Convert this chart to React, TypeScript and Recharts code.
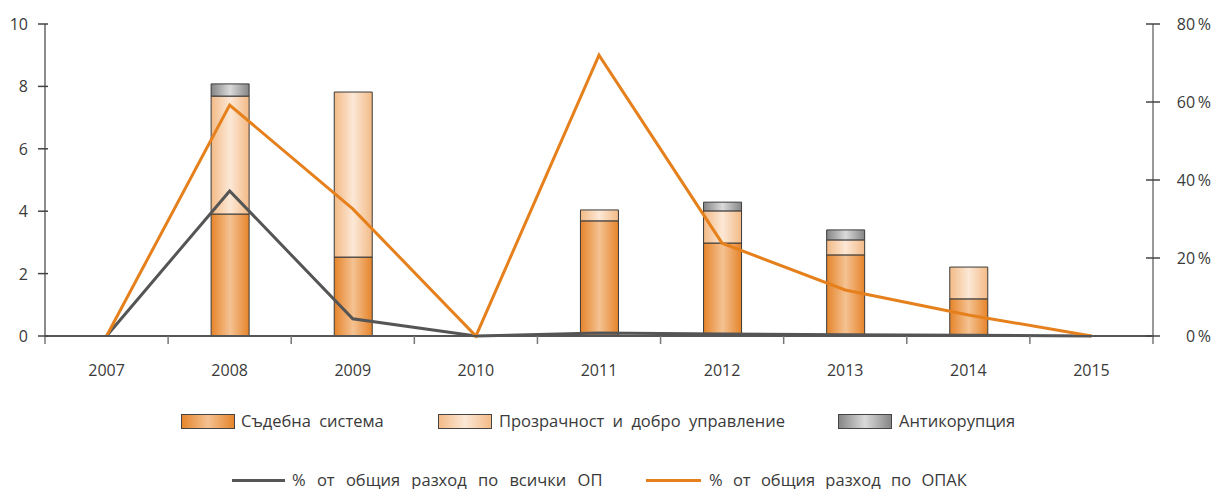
import React from 'react';
import { ComposedChart, Bar, Line, XAxis, YAxis } from 'recharts';

const years = ['2007', '2008', '2009', '2010', '2011', '2012', '2013', '2014', '2015'];
const judicial = [null, 3.91, 2.53, null, 3.69, 2.98, 2.6, 1.19, null];
const transparency = [null, 3.78, 5.29, null, 0.35, 1.03, 0.48, 1.02, null];
const anticorruption = [null, 0.39, null, null, null, 0.28, 0.32, null, null];
const shareAllOP = [0, 37.2, 4.4, 0, 0.8, 0.5, 0.3, 0.2, 0];
const shareOPAK = [0, 59.2, 32.6, 0, 72, 23.8, 11.8, 5.4, 0];
const leftTicks = [0, 2, 4, 6, 8, 10];
const rightTicks = [0, 20, 40, 60, 80];

const barNames = ['Съдебна система', 'Прозрачност и добро управление', 'Антикорупция'];
const lineNames = ['% от общия разход по всички ОП', '% от общия разход по ОПАК'];

const data = years.map((y, i) => ({
  year: y,
  judicial: judicial[i],
  transparency: transparency[i],
  anticorruption: anticorruption[i],
  allOP: shareAllOP[i],
  opak: shareOPAK[i],
}));

const W = 1215;
const H = 489;
const LEFT = 45;
const RIGHT = 62;
const TOP = 24;
const BOTTOM = 153;
const band = (W - LEFT - RIGHT) / years.length;

const FONT = '"Open Sans", "DejaVu Sans", sans-serif';
const TEXT = '#3a3a3a';
const ORANGE = '#E5801C';
const GRAY = '#555555';

const XTick = (props: any) => {
  const { x, y, payload, index } = props;
  const axisY = y - 8;
  return (
    <g>
      <line x1={x - band / 2} x2={x - band / 2} y1={axisY} y2={axisY + 8} stroke="#777" strokeWidth={1.5} />
      {index === years.length - 1 && (
        <line x1={x + band / 2} x2={x + band / 2} y1={axisY} y2={axisY + 8} stroke="#777" strokeWidth={1.5} />
      )}
      <text x={x} y={axisY + 34} textAnchor="middle" dominantBaseline="central" fontSize={16} fill={TEXT} fontFamily={FONT}>
        {payload.value}
      </text>
    </g>
  );
};

const LeftTick = (props: any) => {
  const { y, payload } = props;
  return (
    <g>
      <line x1={38} x2={48} y1={y} y2={y} stroke="#444" strokeWidth={1.5} />
      <text x={28} y={y} textAnchor="end" dominantBaseline="central" fontSize={16} fill={TEXT} fontFamily={FONT}>
        {payload.value}
      </text>
    </g>
  );
};

const RightTick = (props: any) => {
  const { y, payload } = props;
  const ax = W - RIGHT;
  return (
    <g>
      <line x1={ax - 7} x2={ax + 7} y1={y} y2={y} stroke="#444" strokeWidth={1.5} />
      <text x={1211} y={y} textAnchor="end" dominantBaseline="central" fontSize={16} fill={TEXT} fontFamily={FONT}>
        {`${payload.value}\u2009%`}
      </text>
    </g>
  );
};

const gradStops: Record<string, [string, string]> = {
  j: ['#E6842A', '#F4C292'],
  t: ['#F3BA86', '#FCE8D6'],
  a: ['#858585', '#DADADA'],
};

const Swatch = ({ id }: { id: string }) => (
  <svg width={54} height={16} style={{ display: 'block' }}>
    <defs>
      <linearGradient id={id + '-lg'} x1="0" y1="0" x2="1" y2="0">
        <stop offset="0" stopColor={gradStops[id][0]} />
        <stop offset="0.5" stopColor={gradStops[id][1]} />
        <stop offset="1" stopColor={gradStops[id][0]} />
      </linearGradient>
    </defs>
    <rect x={0.5} y={0.5} width={53} height={14} fill={`url(#${id}-lg)`} stroke="#444" strokeWidth={1} />
  </svg>
);

const legendText: React.CSSProperties = {
  position: 'absolute',
  fontFamily: FONT,
  fontSize: 16.5,
  color: TEXT,
  wordSpacing: 4,
  whiteSpace: 'nowrap',
  lineHeight: '20px',
};

export default function App() {
  return (
    <div style={{ position: 'absolute', left: 0, top: 0, width: W, height: H, background: '#fff' }}>
      <ComposedChart
        width={W}
        height={H}
        data={data}
        margin={{ top: TOP, right: 0, bottom: BOTTOM - 30, left: 0 }}
        barCategoryGap={0}
      >
        <defs>
          {Object.keys(gradStops).map((k) => (
            <linearGradient key={k} id={'g' + k} x1="0" y1="0" x2="1" y2="0">
              <stop offset="0" stopColor={gradStops[k][0]} />
              <stop offset="0.5" stopColor={gradStops[k][1]} />
              <stop offset="1" stopColor={gradStops[k][0]} />
            </linearGradient>
          ))}
        </defs>
        <XAxis
          dataKey="year"
          height={30}
          axisLine={{ stroke: GRAY, strokeWidth: 2 }}
          tickLine={false}
          tick={<XTick />}
          interval={0}
        />
        <YAxis
          yAxisId="left"
          width={LEFT}
          domain={[0, 10]}
          ticks={leftTicks}
          axisLine={{ stroke: '#666', strokeWidth: 1.5 }}
          tickLine={false}
          tick={<LeftTick />}
        />
        <YAxis
          yAxisId="right"
          orientation="right"
          width={RIGHT}
          domain={[0, 80]}
          ticks={rightTicks}
          axisLine={{ stroke: '#777', strokeWidth: 1.5 }}
          tickLine={false}
          tick={<RightTick />}
        />
        <Bar yAxisId="left" dataKey="judicial" name={barNames[0]} stackId="s" barSize={38} fill="url(#gj)" stroke="#3a3a3a" strokeWidth={1} isAnimationActive={false} />
        <Bar yAxisId="left" dataKey="transparency" name={barNames[1]} stackId="s" barSize={38} fill="url(#gt)" stroke="#3a3a3a" strokeWidth={1} isAnimationActive={false} />
        <Bar yAxisId="left" dataKey="anticorruption" name={barNames[2]} stackId="s" barSize={38} fill="url(#ga)" stroke="#3a3a3a" strokeWidth={1} isAnimationActive={false} />
        <Line yAxisId="right" type="linear" dataKey="allOP" name={lineNames[0]} stroke={GRAY} strokeWidth={3} dot={false} activeDot={false} isAnimationActive={false} />
        <Line yAxisId="right" type="linear" dataKey="opak" name={lineNames[1]} stroke={ORANGE} strokeWidth={3} dot={false} activeDot={false} isAnimationActive={false} />
      </ComposedChart>

      <div style={{ position: 'absolute', left: 181, top: 414 }}><Swatch id="j" /></div>
      <div style={{ ...legendText, left: 241, top: 411 }}>{barNames[0]}</div>
      <div style={{ position: 'absolute', left: 438, top: 414 }}><Swatch id="t" /></div>
      <div style={{ ...legendText, left: 499, top: 411 }}>{barNames[1]}</div>
      <div style={{ position: 'absolute', left: 838, top: 414 }}><Swatch id="a" /></div>
      <div style={{ ...legendText, left: 899, top: 411 }}>{barNames[2]}</div>

      <div style={{ position: 'absolute', left: 232, top: 479, width: 53, height: 3, background: GRAY }} />
      <div style={{ ...legendText, left: 292, top: 470, wordSpacing: 7 }}>{lineNames[0]}</div>
      <div style={{ position: 'absolute', left: 646, top: 479, width: 55, height: 3, background: ORANGE }} />
      <div style={{ ...legendText, left: 709, top: 470, wordSpacing: 6 }}>{lineNames[1]}</div>
    </div>
  );
}
